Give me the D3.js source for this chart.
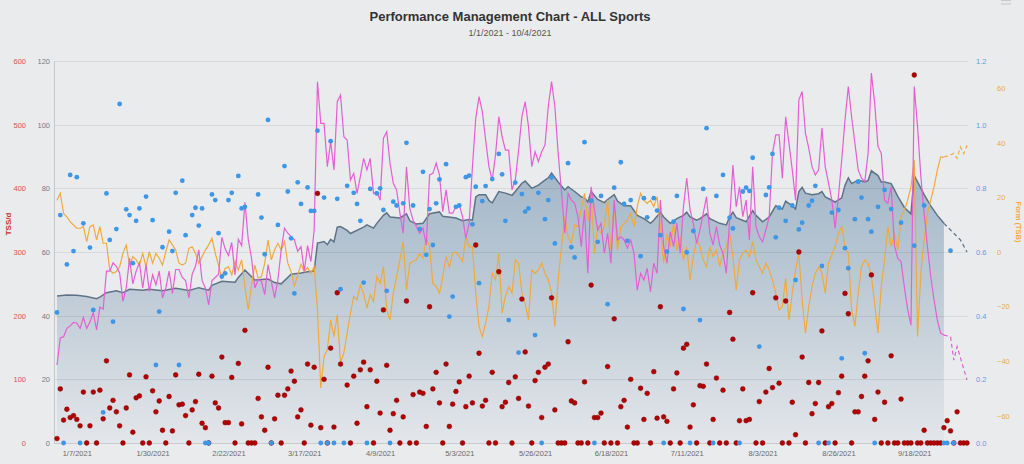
<!DOCTYPE html>
<html><head><meta charset="utf-8">
<script src="https://cdn.jsdelivr.net/npm/d3@7"></script>
<style>
html,body{margin:0;padding:0;background:#eaebed;}
svg{display:block;font-family:"Liberation Sans",Arial,Helvetica,sans-serif;}
</style></head><body>
<svg id="chart" width="1024" height="464"></svg>
<script>
// ---------- DATA ----------
const titleText = "Performance Management Chart - ALL Sports";
const subtitleText = "1/1/2021 - 10/4/2021";
const startDate = "2021-01-01";
const endDate = "2021-10-04";
const xTickLabels = ["1/7/2021","1/30/2021","2/22/2021","3/17/2021","4/9/2021","5/3/2021","5/26/2021","6/18/2021","7/11/2021","8/3/2021","8/26/2021","9/18/2021"];
const tssTicks = [0,100,200,300,400,500,600];
const ctlTicks = [0,20,40,60,80,100,120];
const ifTicks = [0,0.2,0.4,0.6,0.8,1.0,1.2];
const tsbTicks = [-60,-40,-20,0,20,40,60];

// TSS per day (index = days since 1/1/2021)
const tssPerDay = [7,85,36,53,40,43,37,27,80,0,
27,80,0,83,38,129,55,67,49,27,
0,55,107,17,71,74,0,104,0,82,
49,66,20,0,73,19,107,60,61,43,
0,52,65,108,31,24,0,105,63,55,
135,32,32,103,0,125,30,177,0,0,
0,70,41,20,119,0,38,75,0,75,
85,113,97,41,52,0,124,28,119,392,
24,100,0,149,25,236,124,null,91,0,
105,31,115,127,57,115,0,97,47,209,
122,20,46,67,0,41,223,0,76,0,
80,78,26,214,85,111,63,0,124,26,
61,81,96,0,57,105,63,311,141,58,
67,0,111,0,269,57,64,95,0,104,
70,226,143,58,0,98,111,40,119,124,
228,52,0,0,0,159,66,63,0,0,
96,0,248,40,40,47,0,120,0,195,
0,57,67,25,100,0,0,86,37,78,
0,112,39,214,41,34,0,85,110,0,
149,155,25,60,0,90,89,124,0,37,
102,0,83,0,205,163,0,35,85,35,
37,236,0,65,0,80,117,87,228,94,
0,223,0,64,13,300,135,0,95,46,
62,95,176,0,57,62,0,79,105,235,
203,0,49,49,73,105,129,264,37,80,
0,64,0,137,0,0,69,0,0,0,
578,0,0,20,0,0,0,0,0,24,
35,19,0,49,0,0,0];

// Intensity Factor points: [day, IF]
const ifPoints = [[0,.41],[1,.716],[2,0],[3,.561],[4,.842],[5,.603],[6,.835],[7,0],[8,.69],[10,.614],[11,.418],[14,.096],[15,.784],[16,.638],[17,.381],[18,.672],[19,1.065],[21,.734],[22,.716],[23,.565],[24,.698],[25,.737],[27,.774],[29,.70],[30,.245],[31,.413],[32,.615],[34,.664],[35,.603],[36,.786],[37,.245],[38,.824],[39,.653],[41,.716],[42,.739],[43,.683],[44,.737],[45,0],[46,0],[47,.781],[48,.763],[49,.659],[50,.523],[51,.533],[52,.763],[53,.786],[55,.839],[56,.737],[57,.742],[61,.781],[62,.708],[63,.593],[64,1.015],[65,0],[67,.685],[69,.87],[70,.79],[71,.643],[72,.47],[73,.819],[74,.751],[76,.803],[77,.729],[78,.729],[79,.981],[80,0],[81,.771],[82,0],[83,.948],[84,0],[85,.767],[86,.483],[87,0],[88,.808],[90,.786],[91,.751],[92,.698],[93,.504],[94,0],[95,.798],[97,.784],[98,.8],[99,.732],[100,.478],[101,0],[102,.758],[103,.746],[105,.753],[106,.943],[108,.746],[110,.672],[111,.852],[112,.591],[113,.735],[114,.622],[115,.753],[116,.828],[118,.876],[119,.397],[120,.46],[121,.742],[122,.746],[124,.835],[125,.84],[126,.687],[127,.805],[128,.502],[129,.76],[130,.807],[132,.829],[134,.908],[135,.844],[136,.698],[137,.386],[139,.818],[140,.284],[141,.782],[142,.727],[143,.737],[145,.339],[146,.786],[147,0],[148,.703],[149,.763],[150,.834],[151,.627],[155,.879],[156,.615],[157,.583],[160,.945],[162,.761],[163,0],[164,.632],[165,.776],[167,.436],[169,.802],[171,.882],[172,.751],[173,.635],[174,.763],[177,.587],[178,.769],[179,.709],[181,.769],[182,.73],[183,.653],[184,0],[185,.601],[187,.695],[188,.776],[190,.421],[191,.599],[192,0],[193,.666],[195,.386],[196,.798],[197,.989],[199,0],[200,.776],[202,.842],[204,.708],[205,.674],[207,0],[208,.79],[209,.802],[210,.792],[211,.896],[213,.303],[215,.779],[216,.803],[217,.908],[218,.646],[219,.739],[221,.698],[223,.746],[224,.512],[225,.671],[226,.692],[228,.746],[229,.761],[230,.808],[231,0],[232,.556],[234,0],[235,.724],[237,.732],[238,.266],[239,.612],[240,.549],[242,.703],[243,.821],[244,.771],[245,.282],[246,.703],[247,.664],[248,0],[249,.742],[251,.795],[253,.735],[256,.692],[260,.62],[263,.746],[269,0],[270,0],[271,.604],[272,0]];

// CTL (Fitness): [day, value]
const ctlPoints = [[0,46.2],[3,46.5],[6,46.4],[9,46],[12,45.3],[13,45.8],[15,47.2],[18,47.8],[20,47.2],[22,48.3],[26,48],[28,48.3],[32,47.8],[36,48.6],[40,47.9],[43,48.8],[46,48],[47,49.5],[50,50.8],[54,50.5],[55,52],[57,54.3],[60,51.2],[64,51.5],[66,50.4],[68,50],[71,53],[74,53.4],[76,53.8],[78,54],[79,62.8],[81,63.3],[82,62.3],[83,64],[84,63.2],[85,67.8],[86,68],[88,66.8],[89,65.8],[93,67.8],[94,68.5],[96,67.5],[97,69],[99,71.5],[100,72.3],[101,71],[104,70.7],[106,72],[107,69.8],[109,68.8],[111,69],[113,72],[116,72.6],[117,71.2],[121,70.7],[123,69.8],[125,70.2],[126,70],[127,77.3],[128,78],[130,78],[131,76.2],[132,75.4],[134,79],[136,78.5],[138,77.8],[139,79],[141,81.6],[142,82.3],[144,80],[146,81],[148,82.6],[149,83.3],[150,84.8],[152,82],[154,79.5],[155,80.5],[157,79],[159,77.3],[160,77],[161,75.7],[162,79],[164,76.5],[166,75.5],[167,76.5],[169,78],[170,76],[172,74.5],[174,74.5],[176,71.5],[178,70.5],[180,69],[181,70],[183,72.5],[184,71],[186,69],[188,70.5],[190,71.5],[191,72.5],[192,71],[194,70],[195,70.5],[197,72],[198,70.5],[201,69],[203,68.5],[204,71],[205,72.5],[206,70.8],[209,69.5],[211,73],[212,71.5],[214,69.5],[216,71],[218,74.5],[220,73.5],[221,76],[223,74.5],[224,73.5],[225,79],[226,80.3],[227,78.5],[229,78],[231,78.3],[232,79],[233,77.3],[236,75.7],[238,77],[239,81],[240,83.3],[241,81.5],[243,82.6],[245,82],[246,82.5],[247,85.5],[249,84],[250,82],[251,82],[253,81.5],[254,79.5],[255,77.5],[257,74],[259,72],[260,84],[261,82],[263,78],[265,74.5],[267,71.5],[269,69]];
const ctlPlanned = [[269,69],[274,63.8],[276,60]];

// ATL (Fatigue) per day, day 0..269
const atlPerDay = [24.5,33,33.4,36,36.8,37.9,37.7,36,39.4,36,
38,41,35.5,42.7,42,54,54,56.6,55.5,53.4,
44.5,48.7,58,50,54,56.6,48.7,56,47.6,52.8,
49.7,54,45.6,48.7,54,47,54.5,54.5,52,51,
45.6,53,55.5,60.7,51,48.7,43.4,51,52,53,
64.6,61,58.9,63,52.8,64,62,75.6,64,58,
48.7,51.3,50.8,46.6,56,50.8,45.6,51.3,60.7,67.5,
65.9,64.9,63.8,60.2,61.7,54,62,57,67,113.5,
100.4,100.4,86.8,94.7,85.8,107.2,109.3,96.2,95.2,82.6,
84.7,78.4,83.7,89.4,85.8,89.4,78.4,79,76.3,95.7,
97.8,87.9,81.6,79.5,72.2,65.9,86.8,73.7,70,68,
65.9,67.5,62.2,84.2,84.7,87.9,84.2,72.7,79.5,72.2,
72.2,74.2,74.8,71.1,64.3,69,86.8,102,108.8,104.1,
95.2,86.8,82.6,90.5,102.5,96.2,92,92,79.5,82.6,
92,102.5,107.2,99.4,86.8,91.5,88.4,91.5,93.6,105.7,
113.5,105.7,91,79,65.9,78.4,76.3,75.3,71.1,61.7,
73.2,53.3,80.5,73.2,66.9,69,59.6,65.9,56.5,76.3,
63.8,64.8,63.8,61.2,63.8,59.6,48,53.3,51.2,54.9,
47.5,56.5,53.3,76.3,61.7,56.5,66.4,61.7,69,59.6,
74.2,83.2,73.2,69,62.7,66.9,72.2,77.4,65.9,62.2,
68,62.2,59.6,53.3,70,87.3,74.2,80.5,71.1,76.3,
63.8,86.8,68,64.8,63.2,66.9,71.1,91,96.8,96.8,
83.2,102.5,94.2,85.8,76.3,107.8,110.4,97.3,92.6,86.8,
84.2,85.8,98.9,86.8,81.6,76.3,67.5,77.4,88.9,101.5,
112,102.5,94.2,85.8,83.2,82.1,91,116.2,106.7,93.1,
91,76.3,75.3,80.5,62,58,57,49,42,37,
112,99.4,83.7,72.2,61.7,52.3,45,38.6,34.5,33.9];
const atlPlanned = [[269,33.9],[271,33.4],[272,26],[273,30.3],[276,19.8]];

// TSB (Form) per day, day 0..269
const tsbPerDay = [19,21.5,14.1,12.9,11.1,9.9,8.7,8.7,9.3,3.8,
9.3,9.9,4.4,9.3,3.2,3.2,-6.6,-7.8,-7.2,-5.4,
-0.5,2.6,-4.8,-1.7,-2.9,-4.8,-0.5,-5.4,0.1,-4.1,
-0.5,-2.3,-4.8,0.1,4.4,2.6,0.7,-4.1,-4.8,-4.1,
1.3,1.9,-0.5,-4.1,-1.7,0.7,2.6,5,-0.5,-4.8,
-9.6,-6,-5.4,-8.4,-3.5,-6.6,-2.9,-12.7,-21.2,-12.1,
-4.8,-9.6,-9,-4.1,4.4,-2.9,0.7,3.2,0.7,3.8,
-4.1,-7.2,-12.7,-8.4,-4.5,-7.2,-5.7,-7.8,-5.4,-21,
-49.8,-38.3,-35.8,-24.9,-31,-23,-40.7,-37,-29.7,-22.4,
-16.3,-17.5,-12.1,-15.1,-20.6,-15.7,-18.2,-9,-11.5,-5.4,
-21.2,-24.9,-15.1,-9,-2.9,3.8,-13.9,-4.1,-3.5,-2.9,
-0.5,-2.3,5.6,1.9,-11.5,-12.7,-15.1,-9,-1.7,-5.4,
-0.5,0.1,-1.7,-3.5,5.6,1.9,1.9,-15.1,-27.3,-31,
-26.1,-20,-7.8,-10.2,-0.5,-22.4,-16.3,-12.7,-15.1,-2.9,
-4.1,-15.1,-18.8,-24.9,-6.6,-7.8,-6.6,-4.1,-7.8,-10.2,
-15.1,-27.3,-10.2,1.9,12.9,5.6,3.2,9.9,9.3,16,
21.5,11.1,21.5,-0.5,9.3,6.8,9.3,19,0.7,17.8,
0.7,9.3,10.5,11.7,14.1,9.3,16.6,21.5,19,17.8,
19,16.6,20.3,9.3,-4.1,6.8,1.9,10.5,0.7,5.6,
-2.9,1.9,-10.2,-1.7,4.4,1.9,-2.9,-5.4,1.9,-1.7,
0.7,-5.4,-0.5,1.9,6.8,-1.7,-13.9,-2.9,-0.5,0.7,
-1.7,3.8,-2.9,-5.4,-7.8,-4.1,-6.6,-10.2,-15.1,-21.2,
-20,-9.6,-24.9,-15.1,-6.6,-0.5,-17.5,-29.7,-20,-12.7,
-7.8,-5.4,-7.8,-15.1,-4.1,-1,1.9,6.8,9.3,1.9,
-0.5,-21.2,-27.3,-15.1,-5.4,-2.9,-4.1,-9,-18.8,-29.7,
-12.7,-2.9,9.3,1.9,6.8,0.7,12.9,15.3,19,23.9,
33.6,-31,-7.8,4.4,14.1,19,23.9,30,34.8,34.8];
const tsbPlanned = [[269,34.8],[271,35.5],[272,36.2],[273,34.3],[274,38.5],[275,36],[276,39.1]];

// ---------- CHART ----------
const svg = d3.select("#chart");
const W = 1024, H = 464;
const plotTop = 61, plotBottom = 443, plotLeft = 54, plotRight = 968;

svg.append("rect").attr("width", W).attr("height", H).attr("fill", "#eaebed");

const parseDay = d3.utcParse("%Y-%m-%d");
const parseLabel = d3.utcParse("%-m/%-d/%Y");
const start = parseDay(startDate);
const dayDate = i => d3.utcDay.offset(start, i);

const x = d3.scaleUtc().domain([start, parseDay(endDate)]).range([57, 967]);
const yCTL = d3.scaleLinear().domain([0, 120]).range([plotBottom, plotTop]);
const yTSS = d3.scaleLinear().domain([0, 600]).range([plotBottom, plotTop]);
const yIF = d3.scaleLinear().domain([0, 1.2]).range([plotBottom, plotTop]);
const yTSB = d3.scaleLinear().domain([-70, 70]).range([plotBottom, plotTop]);

// gradient for CTL area
const defs = svg.append("defs");
const grad = defs.append("linearGradient").attr("id", "ctlGrad")
  .attr("gradientUnits", "userSpaceOnUse").attr("x1", 0).attr("x2", 0)
  .attr("y1", yCTL(88)).attr("y2", plotBottom);
grad.append("stop").attr("offset", "0%").attr("stop-color", "#a2b6c8");
grad.append("stop").attr("offset", "55%").attr("stop-color", "#c4cfd9");
grad.append("stop").attr("offset", "100%").attr("stop-color", "#e3e6ea");

// CTL area
const area = d3.area().x(d => x(dayDate(d[0]))).y0(plotBottom).y1(d => yCTL(d[1]));
svg.append("path").datum(ctlPoints).attr("d", area).attr("fill", "url(#ctlGrad)");

// gridlines
svg.append("g").selectAll("line").data(ctlTicks).join("line")
  .attr("x1", plotLeft).attr("x2", plotRight)
  .attr("y1", d => Math.round(yCTL(d)) + 0.5).attr("y2", d => Math.round(yCTL(d)) + 0.5)
  .attr("stroke", "rgba(0,0,0,0.075)").attr("stroke-width", 1);

// axis lines
svg.append("line").attr("x1", plotLeft + 0.5).attr("x2", plotLeft + 0.5)
  .attr("y1", plotTop).attr("y2", plotBottom).attr("stroke", "#c4c6c9");
svg.append("line").attr("x1", plotLeft).attr("x2", plotRight)
  .attr("y1", plotBottom + 0.5).attr("y2", plotBottom + 0.5).attr("stroke", "#c9cbce");

// CTL line
const lineCTL = d3.line().x(d => x(dayDate(d[0]))).y(d => yCTL(d[1]));
svg.append("path").datum(ctlPoints).attr("d", lineCTL)
  .attr("fill", "none").attr("stroke", "#5e7486").attr("stroke-width", 1.5);
svg.append("path").datum(ctlPlanned).attr("d", lineCTL)
  .attr("fill", "none").attr("stroke", "#5e7486").attr("stroke-width", 1.3).attr("stroke-dasharray", "4,3");

// TSB line
const lineTSBd = d3.line().x((d, i) => x(dayDate(i))).y(d => yTSB(d));
const lineTSBp = d3.line().x(d => x(dayDate(d[0]))).y(d => yTSB(d[1]));
svg.append("path").datum(tsbPerDay).attr("d", lineTSBd)
  .attr("fill", "none").attr("stroke", "#f0aa3c").attr("stroke-width", 1.2);
svg.append("path").datum(tsbPlanned).attr("d", lineTSBp)
  .attr("fill", "none").attr("stroke", "#f0aa3c").attr("stroke-width", 1.2).attr("stroke-dasharray", "4,3");

// ATL line
const lineATLd = d3.line().x((d, i) => x(dayDate(i))).y(d => yCTL(d));
const lineATLp = d3.line().x(d => x(dayDate(d[0]))).y(d => yCTL(d[1]));
svg.append("path").datum(atlPerDay).attr("d", lineATLd)
  .attr("fill", "none").attr("stroke", "#e45fd4").attr("stroke-width", 1.2);
svg.append("path").datum(atlPlanned).attr("d", lineATLp)
  .attr("fill", "none").attr("stroke", "#e45fd4").attr("stroke-width", 1.2).attr("stroke-dasharray", "4,3");

// TSS dots
svg.append("g").selectAll("circle")
  .data(tssPerDay.map((v, i) => [i, v]).filter(d => d[1] !== null))
  .join("circle")
  .attr("cx", d => x(dayDate(d[0]))).attr("cy", d => yTSS(d[1])).attr("r", 2.4)
  .attr("fill", "#b30000").attr("stroke", "#800000").attr("stroke-width", 0.5);

// IF dots
svg.append("g").selectAll("circle").data(ifPoints).join("circle")
  .attr("cx", d => x(dayDate(d[0]))).attr("cy", d => yIF(d[1])).attr("r", 2.4)
  .attr("fill", "#3d96e6");

// axes
function styleAxis(g, color) {
  g.select(".domain").remove();
  g.selectAll(".tick line").remove();
  g.selectAll("text").attr("fill", color).style("font-size", "7.5px")
    .style("font-family", '"Liberation Sans", Arial, sans-serif');
}
svg.append("g").attr("transform", "translate(26,0)")
  .call(d3.axisLeft(yTSS).tickValues(tssTicks).tickSize(0).tickPadding(0))
  .call(g => styleAxis(g, "#d9534f"));
svg.append("g").attr("transform", "translate(50,0)")
  .call(d3.axisLeft(yCTL).tickValues(ctlTicks).tickSize(0).tickPadding(0))
  .call(g => styleAxis(g, "#7a7a7a"));
svg.append("g").attr("transform", "translate(976,0)")
  .call(d3.axisRight(yIF).tickValues(ifTicks).tickFormat(d3.format(".1f")).tickSize(0).tickPadding(0))
  .call(g => styleAxis(g, "#5a9fe0"));
svg.append("g").attr("transform", "translate(997,0)")
  .call(d3.axisRight(yTSB).tickValues(tsbTicks).tickSize(0).tickPadding(0))
  .call(g => styleAxis(g, "#f0aa3c"));
svg.append("g").attr("transform", `translate(0,${plotBottom})`)
  .call(d3.axisBottom(x).tickValues(xTickLabels.map(parseLabel))
    .tickFormat(d3.utcFormat("%-m/%-d/%Y")).tickSize(0).tickPadding(8))
  .call(g => styleAxis(g, "#6a6a6a"));

// axis titles
svg.append("text").attr("transform", "translate(11,224) rotate(-90)")
  .attr("text-anchor", "middle").attr("fill", "#c9302c")
  .style("font-size", "8px").style("font-weight", "bold").text("TSS/d");
svg.append("text").attr("transform", "translate(1016,222) rotate(90)")
  .attr("text-anchor", "middle").attr("fill", "#f0aa3c")
  .style("font-size", "7.5px").style("font-weight", "bold").text("Form (TSB)");

// titles
svg.append("text").attr("x", 510).attr("y", 21).attr("text-anchor", "middle")
  .attr("fill", "#333").style("font-size", "13px").style("font-weight", "bold").text(titleText);
svg.append("text").attr("x", 510).attr("y", 36).attr("text-anchor", "middle")
  .attr("fill", "#555").style("font-size", "9px").text(subtitleText);

// menu icon (partially visible at top right)
svg.append("g").selectAll("line").data([0.5, 4]).join("line")
  .attr("x1", 1001).attr("x2", 1011).attr("y1", d => d).attr("y2", d => d)
  .attr("stroke", "#c9cacc").attr("stroke-width", 1.2);
</script>
</body></html>
